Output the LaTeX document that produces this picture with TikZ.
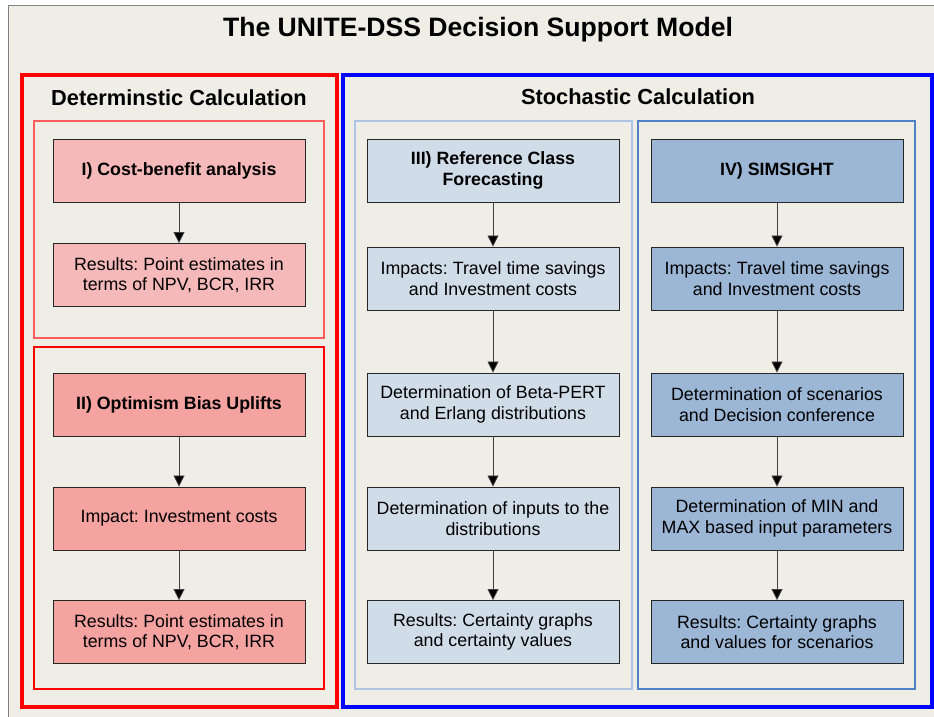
\documentclass[tikz,border=0pt]{standalone}
\usepackage{fontspec}
\setmainfont{Liberation Sans}
\usetikzlibrary{arrows.meta}
\definecolor{bgpaper}{HTML}{EEEEE6}
\definecolor{framegray}{HTML}{808080}
\definecolor{pinkfill}{HTML}{F6B9B9}
\definecolor{salmonfill}{HTML}{F4A3A1}
\definecolor{paleblue}{HTML}{D0DDE8}
\definecolor{midblue}{HTML}{9CB6D6}
\definecolor{pinkline}{HTML}{FF5C5C}
\definecolor{palebluelne}{HTML}{AEC4E4}
\definecolor{midblueline}{HTML}{4F81C4}
\definecolor{arrowgray}{HTML}{404040}
\frenchspacing
\tikzset{
  x=1pt, y=-1pt,
  stepbox/.style={draw=black!85, line width=0.9pt, minimum width=252pt, minimum height=63pt,
    inner sep=2pt, align=center, font=\fontsize{17.8}{20.5}\selectfont},
  headbox/.style={stepbox, font=\fontsize{17.8}{20.5}\selectfont\bfseries},
  flow/.style={draw=arrowgray, line width=0.8pt, -{Triangle[width=11pt,length=11pt,fill=black]}},
  grouptitle/.style={font=\fontsize{21.8}{26}\selectfont\bfseries},
}
\begin{document}
\begin{tikzpicture}
\useasboundingbox (0,0) rectangle (934,717);
\fill[white] (0,0) rectangle (934,717);
% paper and outer frame
\begin{scope}
\clip (0,0) rectangle (934,717);
\filldraw[fill=bgpaper, draw=framegray, line width=1pt] (8,6) rectangle (945,730);
\end{scope}
\node[font=\fontsize{26.6}{32}\selectfont\bfseries] (title) at (478,30) {The UNITE-DSS Decision Support Model};

% main group frames
\draw[red, line width=4pt] (22,75) rectangle (337,707);
\draw[blue, line width=4pt] (343,75) rectangle (932,707);
\node[grouptitle] (detlabel) at (179,98) {Determinstic Calculation};
\node[grouptitle] (stolabel) at (638,97) {Stochastic Calculation};

% sub frames
\draw[pinkline, line width=2pt] (34,121) rectangle (324,338);
\draw[red, line width=2pt] (34,347) rectangle (324,689);
\draw[palebluelne, line width=2pt] (355,121) rectangle (632,689);
\draw[midblueline, line width=2pt] (638,121) rectangle (915,689);

% deterministic column
\node[headbox, fill=pinkfill] (a1) at (179,170.5) {I) Cost-benefit analysis};
\node[stepbox, fill=pinkfill] (a2) at (179,275) {Results: Point estimates in\\terms of NPV, BCR, IRR};
\node[headbox, fill=salmonfill] (b1) at (179,404.5) {II) Optimism Bias Uplifts};
\node[stepbox, fill=salmonfill] (b2) at (179,518.5) {Impact: Investment costs};
\node[stepbox, fill=salmonfill] (b3) at (179,632) {Results: Point estimates in\\terms of NPV, BCR, IRR};

% reference class forecasting column
\node[headbox, fill=paleblue] (c1) at (493,170.5) {III) Reference Class\\Forecasting};
\node[stepbox, fill=paleblue] (c2) at (493,278.5) {Impacts: Travel time savings\\and Investment costs};
\node[stepbox, fill=paleblue] (c3) at (493,404.5) {Determination of Beta-PERT\\and Erlang distributions};
\node[stepbox, fill=paleblue] (c4) at (493,518.5) {Determination of inputs to the\\distributions};
\node[stepbox, fill=paleblue] (c5) at (493,632) {Results: Certainty graphs\\and certainty values};

% SIMSIGHT column
\node[headbox, fill=midblue] (d1) at (777,170.5) {IV) SIMSIGHT};
\node[stepbox, fill=midblue] (d2) at (777,278.5) {Impacts: Travel time savings\\and Investment costs};
\node[stepbox, fill=midblue] (d3) at (777,404.5) {Determination of scenarios\\and Decision conference};
\node[stepbox, fill=midblue] (d4) at (777,518.5) {Determination of MIN and\\MAX based input parameters};
\node[stepbox, fill=midblue] (d5) at (777,632) {Results: Certainty graphs\\and values for scenarios};

% connectors
\draw[flow] (a1) -- (a2);
\draw[flow] (b1) -- (b2);
\draw[flow] (b2) -- (b3);
\foreach \col in {c,d}{
  \draw[flow] (\col1) -- (\col2);
  \draw[flow] (\col2) -- (\col3);
  \draw[flow] (\col3) -- (\col4);
  \draw[flow] (\col4) -- (\col5);
}
\end{tikzpicture}
\end{document}
